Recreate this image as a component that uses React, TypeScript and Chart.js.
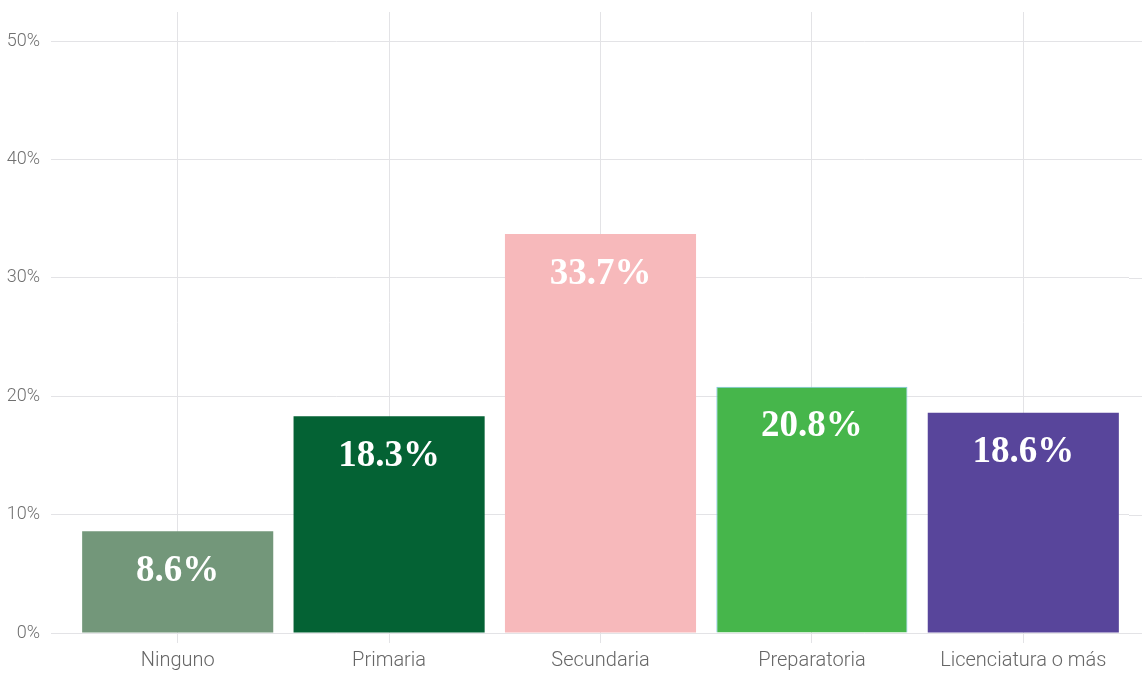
import React, { useEffect, useRef } from "react";
import { Chart, registerables } from "chart.js";

Chart.register(...registerables);

const categories = ["Ninguno", "Primaria", "Secundaria", "Preparatoria", "Licenciatura o más"];
const values = [8.6, 18.3, 33.7, 20.8, 18.6];
const barColors = ["#73977a", "#046234", "#f7b9bb", "#46b64b", "#58459b"];
const borderColors = ["#73977a", "#046234", "#f7b9bb", "#7cc3e6", "#58459b"];
const borderWidths = [0, 0, 0, 1, 0];
const yTicks = [0, 10, 20, 30, 40, 50];

const GRID = "#e3e3e6";

const barLabelPlugin = {
  id: "barLabels",
  afterDatasetsDraw(chart: any) {
    const ctx = chart.ctx;
    const meta = chart.getDatasetMeta(0);
    ctx.save();
    ctx.fillStyle = "#ffffff";
    ctx.font = "bold 37px 'Liberation Serif', serif";
    ctx.textAlign = "center";
    ctx.textBaseline = "middle";
    meta.data.forEach((bar: any, i: number) => {
      ctx.fillText(values[i].toFixed(1) + "%", bar.x, bar.y + 40);
    });
    ctx.restore();
  },
};

const gridExtendPlugin = {
  id: "gridExtend",
  beforeDatasetsDraw(chart: any) {
    const ctx = chart.ctx;
    const y = chart.scales.y;
    ctx.save();
    ctx.strokeStyle = GRID;
    ctx.lineWidth = 1;
    yTicks.forEach((t) => {
      const py = Math.round(y.getPixelForValue(t)) + 0.5;
      ctx.beginPath();
      ctx.moveTo(chart.chartArea.right, py);
      ctx.lineTo(chart.width, py);
      ctx.stroke();
    });
    ctx.restore();
  },
};

export default function App() {
  const ref = useRef<HTMLCanvasElement | null>(null);
  useEffect(() => {
    document.body.style.margin = "0";
    if (!ref.current) return;
    const chart = new Chart(ref.current, {
      type: "bar",
      data: {
        labels: categories,
        datasets: [
          {
            data: values,
            backgroundColor: barColors,
            borderColor: borderColors,
            borderWidth: borderWidths,
            categoryPercentage: 1,
            barPercentage: 0.904,
          },
        ],
      },
      options: {
        animation: false,
        responsive: true,
        maintainAspectRatio: false,
        layout: { padding: { top: 12, right: 13, left: 0, bottom: 0 } },
        plugins: { legend: { display: false }, tooltip: { enabled: false } },
        scales: {
          x: {
            grid: { color: GRID, tickLength: 10, offset: false },
            border: { display: false },
            ticks: {
              color: "#666666",
              padding: 6,
              font: { family: "Roboto", size: 20, weight: "300" as any },
            },
            afterFit: (s: any) => {
              s.height = 40;
              s.paddingLeft = 0;
              s.paddingRight = 0;
            },
          },
          y: {
            min: 0,
            max: 52.45,
            grid: { color: GRID, tickLength: 21 },
            border: { display: false },
            afterBuildTicks: (s: any) => {
              s.ticks = yTicks.map((v) => ({ value: v }));
            },
            ticks: {
              color: "#707070",
              padding: 11,
              font: { family: "Roboto", size: 18, weight: "300" as any },
              callback: (v: any) => v + "%",
            },
            afterFit: (s: any) => {
              s.width = 72;
              s.paddingTop = 0;
              s.paddingBottom = 0;
            },
          },
        },
      },
      plugins: [gridExtendPlugin, barLabelPlugin],
    });
    return () => chart.destroy();
  }, []);
  return (
    <div style={{ width: 1142, height: 673, position: "relative" }}>
      <canvas ref={ref} />
    </div>
  );
}
